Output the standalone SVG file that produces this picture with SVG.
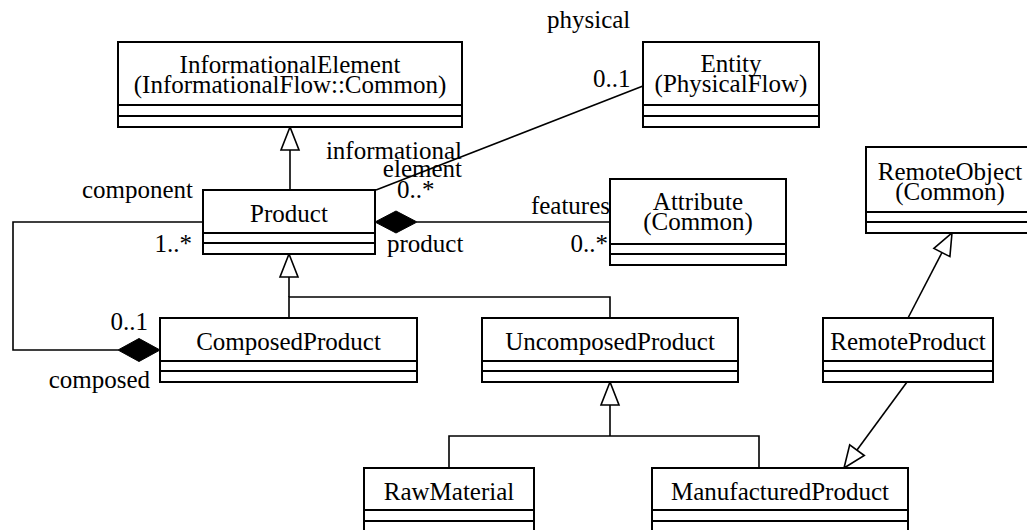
<svg xmlns="http://www.w3.org/2000/svg" width="1027" height="530" viewBox="0 0 1027 530">
<style>
  .box { fill: #fff; stroke: #000; stroke-width: 2; }
  .sep { stroke: #000; stroke-width: 2; fill: none; }
  .t { font-family: "Liberation Serif", "Times New Roman", serif; font-size: 25px; fill: #000; }
  .c { text-anchor: middle; }
  .e { text-anchor: end; }
  .ln { stroke: #000; stroke-width: 1.6; fill: none; }
  .gen { fill: #fff; stroke: #000; stroke-width: 1.6; }
  .comp { fill: #000; stroke: #000; stroke-width: 1; }
</style>
<rect width="1027" height="530" fill="#fff"/>

<g id="connectors">
  <line class="ln" x1="290" y1="150" x2="290" y2="190"/>
  <polygon class="gen" points="290,127 281,150 299,150"/>
  <line class="ln" x1="643" y1="86" x2="376" y2="190"/>
  <line class="ln" x1="417" y1="222" x2="610" y2="222"/>
  <polygon class="comp" points="375,222 396,211 417,222 396,233"/>
  <polyline class="ln" points="203,222 13,222 13,350 118,350"/>
  <polygon class="comp" points="160,350 139,338.5 118,350 139,361.5"/>
  <polygon class="gen" points="289,254 280,277 298,277"/>
  <polyline class="ln" points="289,277 289,297"/>
  <polyline class="ln" points="289,318 289,297 610,297 610,318"/>
  <polygon class="gen" points="610,382 601,405 619,405"/>
  <line class="ln" x1="610" y1="405" x2="610" y2="436"/>
  <polyline class="ln" points="449,468 449,436 759,436 759,468"/>
  <line class="ln" x1="908" y1="318" x2="942" y2="252.5"/>
  <polygon class="gen" points="952,233 949.9,256.6 933.9,248.4"/>
  <line class="ln" x1="907" y1="382" x2="857" y2="450"/>
  <polygon class="gen" points="844,468 864.3,455.5 849.7,444.9"/>
</g>

<g id="labels">
  <text class="t" x="547" y="28">physical</text>
  <text class="t" x="593" y="87">0..1</text>
  <text class="t e" x="462" y="159">informational</text>
  <text class="t e" x="462" y="177">element</text>
  <text class="t" x="397" y="198">0..*</text>
  <text class="t e" x="193" y="198">component</text>
  <text class="t e" x="192" y="252">1..*</text>
  <text class="t" x="387" y="252">product</text>
  <text class="t e" x="610" y="214">features</text>
  <text class="t e" x="608" y="252">0..*</text>
  <text class="t e" x="148" y="330">0..1</text>
  <text class="t e" x="150" y="388">composed</text>
</g>

<g id="InformationalElement">
  <rect class="box" x="118" y="42" width="344" height="85"/>
  <line class="sep" x1="118" y1="105" x2="462" y2="105"/>
  <line class="sep" x1="118" y1="116" x2="462" y2="116"/>
  <text class="t c" x="290" y="73">InformationalElement</text>
  <text class="t c" x="290" y="93">(InformationalFlow::Common)</text>
</g>

<g id="Entity">
  <rect class="box" x="643" y="42" width="176" height="85"/>
  <line class="sep" x1="643" y1="105" x2="819" y2="105"/>
  <line class="sep" x1="643" y1="116" x2="819" y2="116"/>
  <text class="t c" x="731" y="72">Entity</text>
  <text class="t c" x="731" y="92">(PhysicalFlow)</text>
</g>

<g id="Product">
  <rect class="box" x="203" y="190" width="172" height="64"/>
  <line class="sep" x1="203" y1="233" x2="375" y2="233"/>
  <line class="sep" x1="203" y1="243" x2="375" y2="243"/>
  <text class="t c" x="289" y="222">Product</text>
</g>

<g id="Attribute">
  <rect class="box" x="610" y="179" width="176" height="86"/>
  <line class="sep" x1="610" y1="244" x2="786" y2="244"/>
  <line class="sep" x1="610" y1="254" x2="786" y2="254"/>
  <text class="t c" x="698" y="210">Attribute</text>
  <text class="t c" x="698" y="230">(Common)</text>
</g>

<g id="RemoteObject">
  <rect class="box" x="866" y="147" width="170" height="86"/>
  <line class="sep" x1="866" y1="212" x2="1036" y2="212"/>
  <line class="sep" x1="866" y1="222" x2="1036" y2="222"/>
  <text class="t c" x="950" y="180">RemoteObject</text>
  <text class="t c" x="950" y="200">(Common)</text>
</g>

<g id="ComposedProduct">
  <rect class="box" x="160" y="318" width="257" height="64"/>
  <line class="sep" x1="160" y1="361" x2="417" y2="361"/>
  <line class="sep" x1="160" y1="371" x2="417" y2="371"/>
  <text class="t c" x="288.5" y="350">ComposedProduct</text>
</g>

<g id="UncomposedProduct">
  <rect class="box" x="482" y="318" width="256" height="64"/>
  <line class="sep" x1="482" y1="361" x2="738" y2="361"/>
  <line class="sep" x1="482" y1="371" x2="738" y2="371"/>
  <text class="t c" x="610" y="350">UncomposedProduct</text>
</g>

<g id="RemoteProduct">
  <rect class="box" x="823" y="318" width="170" height="64"/>
  <line class="sep" x1="823" y1="361" x2="993" y2="361"/>
  <line class="sep" x1="823" y1="371" x2="993" y2="371"/>
  <text class="t c" x="908" y="350">RemoteProduct</text>
</g>

<g id="RawMaterial">
  <rect class="box" x="364" y="468" width="170" height="66"/>
  <line class="sep" x1="364" y1="510" x2="534" y2="510"/>
  <line class="sep" x1="364" y1="521" x2="534" y2="521"/>
  <text class="t c" x="449" y="500">RawMaterial</text>
</g>

<g id="ManufacturedProduct">
  <rect class="box" x="652" y="468" width="256" height="66"/>
  <line class="sep" x1="652" y1="510" x2="908" y2="510"/>
  <line class="sep" x1="652" y1="521" x2="908" y2="521"/>
  <text class="t c" x="780" y="500">ManufacturedProduct</text>
</g>
</svg>
